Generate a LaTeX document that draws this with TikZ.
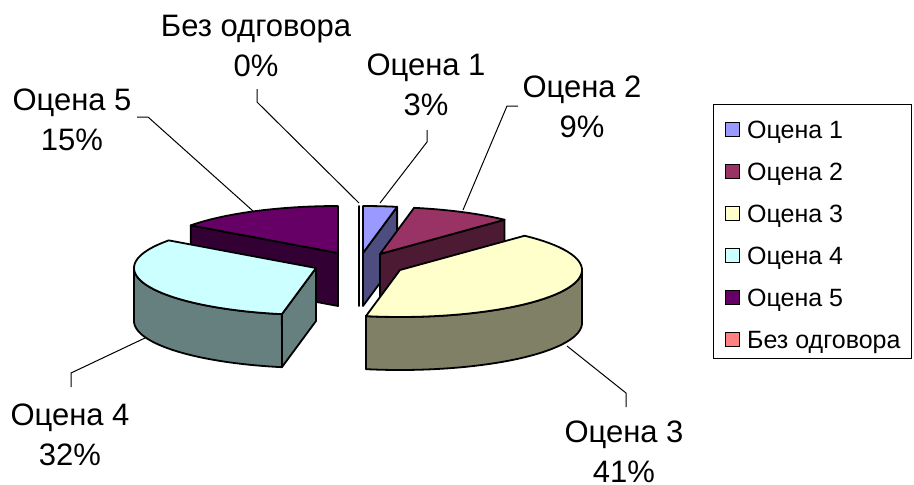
\documentclass[tikz,border=0pt]{standalone}
\usepackage{fontspec}
\setmainfont{Liberation Sans}
\definecolor{cA}{HTML}{9999FF}\definecolor{sA}{HTML}{4D4D80}
\definecolor{cB}{HTML}{993366}\definecolor{sB}{HTML}{4D1A33}
\definecolor{cC}{HTML}{FFFFCC}\definecolor{sC}{HTML}{808066}
\definecolor{cD}{HTML}{CCFFFF}\definecolor{sD}{HTML}{668080}
\definecolor{cE}{HTML}{660066}\definecolor{sE}{HTML}{330033}
\definecolor{cF}{HTML}{FF8080}
\newcommand\topface[5]{%
  \filldraw[edge, fill=#5] (#1,#2) -- plot[domain=#3:#4, samples=50] ({#1+182*cos(\x)},{#2-47*sin(\x)}) -- cycle;}
\newcommand\rimside[5]{%
  \filldraw[edge, fill=#5] plot[domain=#3:#4, samples=50] ({#1+182*cos(\x)},{#2-47*sin(\x)}) -- plot[domain=#4:#3, samples=50] ({#1+182*cos(\x)},{#2+53-47*sin(\x)}) -- cycle;}
\newcommand\cutface[4]{%
  \filldraw[edge, fill=#4] (#1,#2) -- ({#1+182*cos(#3)},{#2-47*sin(#3)}) -- ++(0,53) -- (#1,#2+53) -- cycle;}
\newcommand\twolines[2]{\vtop{\halign{\hfil##\hfil\cr#1\cr#2\cr}}}
\begin{document}
\begin{tikzpicture}[x=1pt,y=-1pt,
  edge/.style={draw=black, line width=1.8pt, line join=round},
  leader/.style={draw=black, line width=1pt},
  lab/.style={font=\fontsize{31}{40}\selectfont, inner sep=0pt, anchor=base},
  legtext/.style={font=\fontsize{25}{30}\selectfont, inner sep=0pt, anchor=base west},
  swatch/.style={draw=black, line width=0.8pt, minimum width=14pt, minimum height=14pt, inner sep=0pt}]
\useasboundingbox (0,0) rectangle (914,485);
% Ocena 5
\cutface{338}{253}{144}{sE}
\topface{338}{253}{90}{144}{cE}
% Bez odgovora (0%)
\cutface{359}{253}{90}{cF}
% Ocena 1
\cutface{363}{253}{79.2}{sA}
\topface{363}{253}{79.2}{90}{cA}
% Ocena 2
\cutface{380}{254}{46.8}{sB}
\topface{380}{254}{46.8}{79.2}{cB}
% Ocena 4
\rimside{316}{268}{180}{259.2}{sD}
\cutface{316}{268}{259.2}{sD}
\topface{316}{268}{144}{259.2}{cD}
% Ocena 3
\rimside{400}{270}{-100.8}{0}{sC}
\topface{400}{270}{-100.8}{46.8}{cC}
% labels
\node[lab] (l0) at (256,36) {\twolines{Без одговора}{0\%}};
\node[lab] (l5) at (72,110) {\twolines{Оцена 5}{15\%}};
\node[lab] (l1) at (426,75) {\twolines{Оцена 1}{3\%}};
\node[lab] (l2) at (582,97) {\twolines{Оцена 2}{9\%}};
\node[lab] (l4) at (70,425) {\twolines{Оцена 4}{32\%}};
\node[lab] (l3) at (624,442) {\twolines{Оцена 3}{41\%}};
% leader lines
\coordinate (a0) at (257,89); \coordinate (b0) at (257,102); \coordinate (e0) at (359,203);
\coordinate (a5) at (137,117); \coordinate (b5) at (148,117); \coordinate (e5) at (253,211);
\coordinate (a1) at (427,130); \coordinate (b1) at (427,142); \coordinate (e1) at (380,203);
\coordinate (a2) at (518,106); \coordinate (b2) at (507,106); \coordinate (e2) at (463,210);
\coordinate (a4) at (71,387); \coordinate (b4) at (71,373); \coordinate (e4) at (145,338);
\coordinate (a3) at (626,407); \coordinate (b3) at (626,393); \coordinate (e3) at (567,346);
\foreach \i in {0,1,2,3,4,5} {\draw[leader] (a\i) -- (b\i) -- (e\i);}
% legend
\draw[line width=1pt] (713,104) rectangle (911,358);
\foreach \c/\t [count=\k from 0] in {cA/Оцена 1, cB/Оцена 2, cC/Оцена 3, cD/Оцена 4, cE/Оцена 5, cF/Без одговора} {
  \node[swatch, fill=\c] (sw\k) at (732,{129.5+42*\k}) {};
  \node[legtext] (lt\k) at (747,{138+42*\k}) {\t};
}
\end{tikzpicture}
\end{document}
